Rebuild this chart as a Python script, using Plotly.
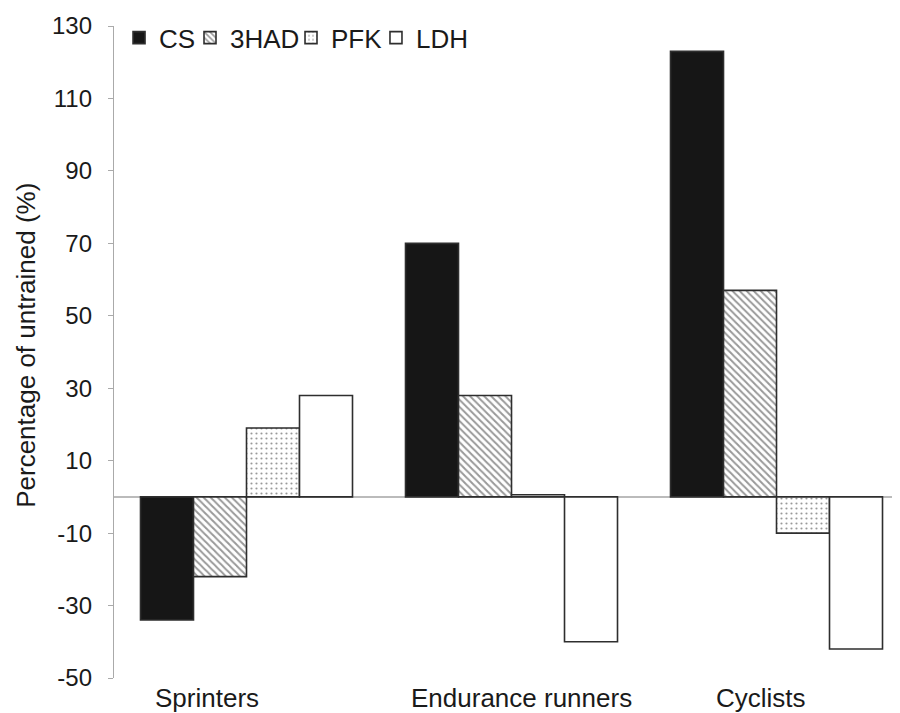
import plotly.graph_objects as go

groups = ['Sprinters', 'Endurance runners', 'Cyclists']
cs = [-34, 70, 123]
had3 = [-22, 28, 57]
pfk = [19, 0.6, -10]
ldh = [28, -40, -42]

y_ticks = [130, 110, 90, 70, 50, 30, 10, -10, -30, -50]
y_tick_text = ['130', '110', '90', '70', '50', '30', '10', '-10', '-30', '-50']

outline = dict(color='#2e2e2e', width=1.6)
fam = 'Liberation Sans, Arial, sans-serif'
font = dict(family=fam, size=26, color='#1a1a1a')
tick_font = dict(family=fam, size=24, color='#1a1a1a')

fig = go.Figure()

# each series gets its own legend so the entries can sit close together
fig.add_bar(x=groups, y=cs, name='CS', legend='legend',
            marker=dict(color='#161616', line=outline))
fig.add_bar(x=groups, y=had3, name='3HAD', legend='legend2',
            marker=dict(color='white', line=outline,
                        pattern=dict(shape='\\', size=5, solidity=0.4,
                                     fgcolor='#333333', bgcolor='white')))
fig.add_bar(x=groups, y=pfk, name='PFK', legend='legend3',
            marker=dict(color='white', line=outline,
                        pattern=dict(shape='.', size=5, solidity=0.15,
                                     fgcolor='#333333', bgcolor='white')))
fig.add_bar(x=groups, y=ldh, name='LDH', legend='legend4',
            marker=dict(color='white', line=outline))

# category labels, placed where the original puts them
label_x = [-0.149, 1.036, 1.942]
for g, lx in zip(groups, label_x):
    fig.add_annotation(x=lx, y=0, xref='x', yref='paper', text=g,
                       showarrow=False, yanchor='top', yshift=-3, font=font)

# y title
fig.add_annotation(x=-0.112, y=0.511, xref='paper', yref='paper',
                   xanchor='center', yanchor='middle',
                   text='Percentage of untrained (%)', textangle=-90,
                   showarrow=False, font=font)

def leg(x):
    return dict(orientation='h', x=x, y=0.982, xanchor='left', yanchor='middle',
                font=font, bgcolor='rgba(0,0,0,0)', itemwidth=30)

# page body adds ~8px offset, so the figure is a bit smaller than the window
fig.update_layout(
    width=892,
    height=705,
    barmode='group',
    bargap=0.2,
    bargroupgap=0,
    plot_bgcolor='white',
    paper_bgcolor='white',
    margin=dict(l=106, r=0, t=18, b=35, autoexpand=False),
    font=font,
    showlegend=True,
    legend=leg(0.0064),
    legend2=leg(0.0967),
    legend3=leg(0.2252),
    legend4=leg(0.3333),
)

fig.update_xaxes(
    range=[-0.5, 2.466],
    showticklabels=False,
    showline=False,
    showgrid=False,
    ticks='',
)

fig.update_yaxes(
    range=[-50, 130],
    tickvals=y_ticks,
    ticktext=y_tick_text,
    showgrid=False,
    showline=True,
    linecolor='#aaaaaa',
    linewidth=1.3,
    ticks='outside',
    ticklen=5,
    tickcolor='#aaaaaa',
    ticklabelstandoff=11,
    zeroline=True,
    zerolinecolor='#bbbbbb',
    zerolinewidth=1.5,
    automargin=False,
    tickfont=tick_font,
)

fig.write_html("out.html")
